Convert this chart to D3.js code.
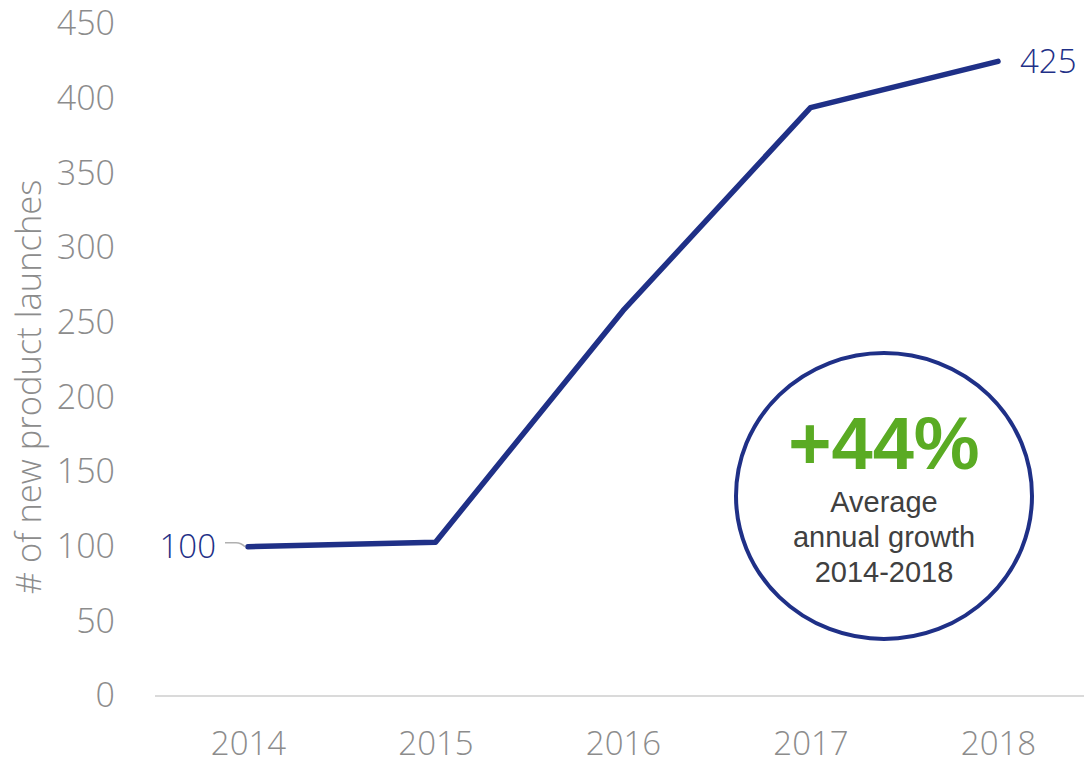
<!DOCTYPE html>
<html>
<head>
<meta charset="utf-8">
<script src="https://cdn.jsdelivr.net/npm/d3@7"></script>
<style>
  body { margin: 0; background: #fff; }
  svg { display: block; }
</style>
</head>
<body>
<script>
const width = 1084;
const height = 768;

const years = ['2014', '2015', '2016', '2017', '2018'];
const launches = [100, 103, 258, 394, 425];
const yTicks = [0, 50, 100, 150, 200, 250, 300, 350, 400, 450];
const growthText = '+44%';
const growthLines = ['Average', 'annual growth', '2014-2018'];

const lineColor = '#1f3087';
const tickColor = '#8c8c8c';
const lightFont = "'Open Sans', sans-serif";

const svg = d3.select('body')
  .append('svg')
  .attr('width', width)
  .attr('height', height);

const x = d3.scalePoint()
  .domain(years)
  .range([248, 998]);

const y = d3.scaleLinear()
  .domain([0, 450])
  .range([696, 24]);

// baseline
svg.append('line')
  .attr('x1', 155)
  .attr('x2', width)
  .attr('y1', y(0))
  .attr('y2', y(0))
  .attr('stroke', '#dadada')
  .attr('stroke-width', 2);

// y axis labels
const yAxis = svg.append('g')
  .attr('transform', 'translate(115,0)')
  .call(d3.axisLeft(y).tickValues(yTicks).tickSize(0).tickPadding(0));
yAxis.select('.domain').remove();
yAxis.selectAll('text')
  .attr('fill', tickColor)
  .attr('font-family', lightFont)
  .attr('font-weight', 300)
  .attr('font-size', 34);

// x axis labels
const xAxis = svg.append('g')
  .attr('transform', 'translate(0,732)')
  .call(d3.axisBottom(x).tickSize(0).tickPadding(0));
xAxis.select('.domain').remove();
xAxis.selectAll('text')
  .attr('fill', tickColor)
  .attr('font-family', lightFont)
  .attr('font-weight', 300)
  .attr('font-size', 33);

// y title
svg.append('text')
  .text('# of new product launches')
  .attr('transform', 'translate(41,387) rotate(-90)')
  .attr('text-anchor', 'middle')
  .attr('fill', tickColor)
  .attr('font-family', lightFont)
  .attr('font-weight', 300)
  .attr('font-size', 34.5);

// line
const line = d3.line()
  .x((d, i) => x(years[i]))
  .y(d => y(d));

svg.append('path')
  .datum(launches)
  .attr('d', line)
  .attr('fill', 'none')
  .attr('stroke', lineColor)
  .attr('stroke-width', 5.5)
  .attr('stroke-linecap', 'round')
  .attr('stroke-linejoin', 'round');

// end labels
const first = launches[0];
const last = launches[launches.length - 1];

svg.append('path')
  .attr('d', `M${x(years[0]) - 23},${y(first) - 4} L${x(years[0]) - 12},${y(first) - 4} Q${x(years[0]) - 7},${y(first) - 4} ${x(years[0]) - 3},${y(first)}`)
  .attr('fill', 'none')
  .attr('stroke', '#b0b0b0')
  .attr('stroke-width', 1.5);

svg.append('text')
  .text(first)
  .attr('x', x(years[0]) - 32)
  .attr('y', y(first))
  .attr('dy', '0.35em')
  .attr('text-anchor', 'end')
  .attr('fill', lineColor)
  .attr('font-family', lightFont)
  .attr('font-weight', 300)
  .attr('font-size', 33);

svg.append('text')
  .text(last)
  .attr('x', x(years[years.length - 1]) + 22)
  .attr('y', y(last))
  .attr('dy', '0.35em')
  .attr('text-anchor', 'start')
  .attr('fill', lineColor)
  .attr('font-family', lightFont)
  .attr('font-weight', 300)
  .attr('font-size', 33);

// growth bubble
const bubble = svg.append('g').attr('transform', 'translate(884,496)');
bubble.append('ellipse')
  .attr('rx', 148)
  .attr('ry', 143)
  .attr('fill', '#fff')
  .attr('stroke', lineColor)
  .attr('stroke-width', 4);

bubble.append('text')
  .text(growthText)
  .attr('y', -27)
  .attr('text-anchor', 'middle')
  .attr('fill', '#5aab23')
  .attr('font-family', 'Liberation Sans, Arial, sans-serif')
  .attr('font-weight', 'bold')
  .attr('font-size', 74);

bubble.selectAll('text.sub')
  .data(growthLines)
  .enter()
  .append('text')
  .attr('class', 'sub')
  .text(d => d)
  .attr('y', (d, i) => 16 + i * 35)
  .attr('text-anchor', 'middle')
  .attr('fill', '#404040')
  .attr('font-family', 'Liberation Sans, Arial, sans-serif')
  .attr('font-size', 29);
</script>
</body>
</html>
